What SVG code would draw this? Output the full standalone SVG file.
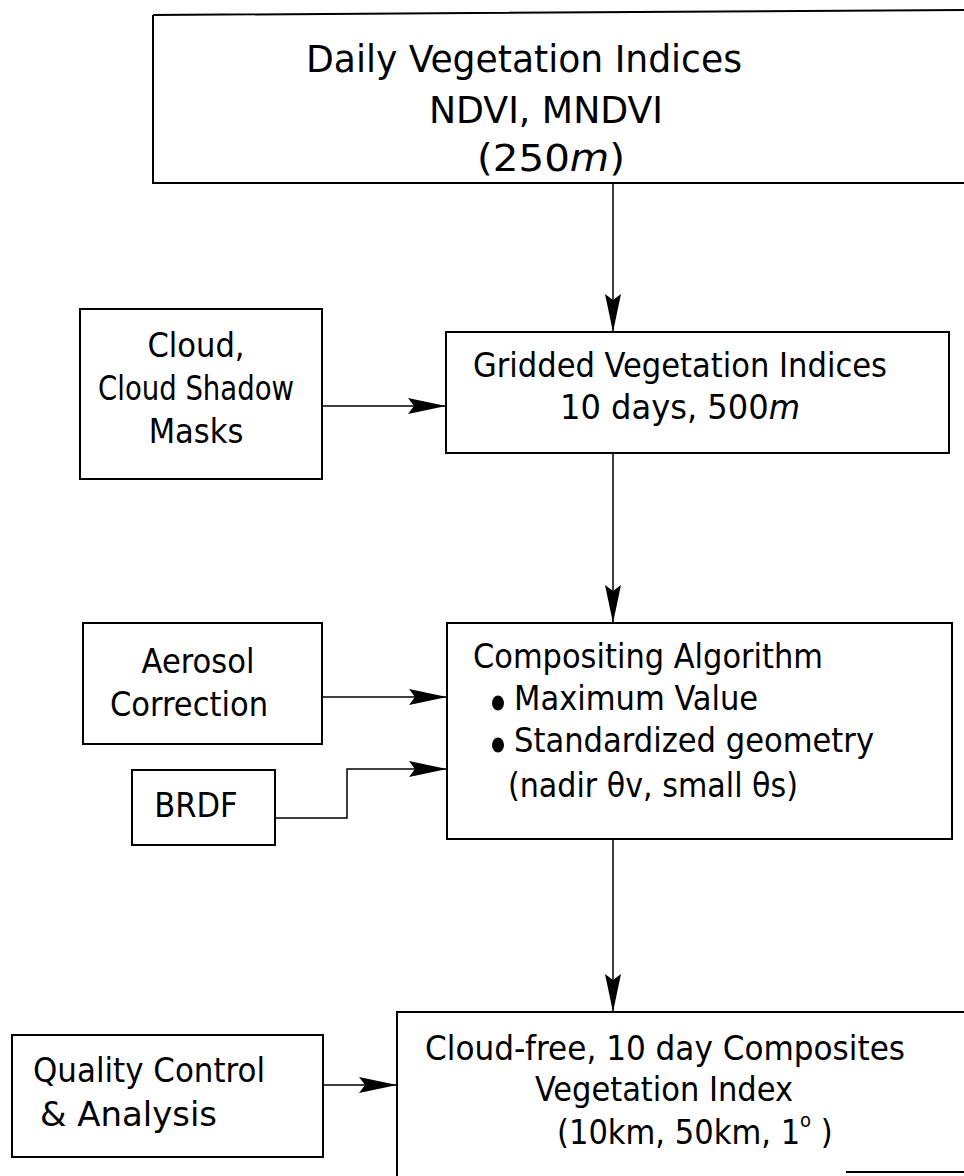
<svg xmlns="http://www.w3.org/2000/svg" width="964" height="1176" viewBox="0 0 964 1176">
<style>
.box{fill:#fff;stroke:#000;stroke-width:2}
.t{font-family:"DejaVu Sans Condensed","Liberation Sans",sans-serif;fill:#000;font-size:34px}
.big{font-size:37px}
.c{fill:none;stroke:#000;stroke-width:1.5}
</style>
<defs>
<marker id="ah" markerUnits="userSpaceOnUse" markerWidth="40" markerHeight="20" refX="38" refY="8" orient="auto">
<path d="M0,0 L38,8 L0,16 L6,8 Z" fill="#000"/>
</marker>
</defs>
<rect width="964" height="1176" fill="#fff"/>
<g id="daily">
<path class="box" d="M153,15 L964,10 M153,15 V183 H964"/>
<text class="t big" x="524" y="72" text-anchor="middle" textLength="436" lengthAdjust="spacingAndGlyphs">Daily Vegetation Indices</text>
<text class="t big" x="546" y="123" text-anchor="middle" textLength="234" lengthAdjust="spacingAndGlyphs">NDVI,  MNDVI</text>
<text class="t big" x="551" y="171" text-anchor="middle" textLength="148" lengthAdjust="spacingAndGlyphs">(250<tspan font-style="italic">m</tspan>)</text>
</g>
<g id="cloud">
<rect class="box" x="80" y="309" width="242" height="170"/>
<text class="t" x="196" y="357" text-anchor="middle">Cloud,</text>
<text class="t" x="196" y="400" text-anchor="middle" textLength="196" lengthAdjust="spacingAndGlyphs">Cloud Shadow</text>
<text class="t" x="196" y="443" text-anchor="middle">Masks</text>
</g>
<g id="gridded">
<rect class="box" x="446" y="332" width="503" height="121"/>
<text class="t" x="680" y="377" text-anchor="middle" textLength="414" lengthAdjust="spacingAndGlyphs">Gridded Vegetation Indices</text>
<text class="t" x="680" y="419" text-anchor="middle" textLength="240" lengthAdjust="spacingAndGlyphs">10 days,  500<tspan font-style="italic">m</tspan></text>
</g>
<g id="aerosol">
<rect class="box" x="83" y="623" width="239" height="121"/>
<text class="t" x="198" y="673" text-anchor="middle">Aerosol</text>
<text class="t" x="189" y="716" text-anchor="middle">Correction</text>
</g>
<g id="brdf">
<rect class="box" x="132" y="770" width="143" height="75"/>
<text class="t" x="196" y="817" text-anchor="middle">BRDF</text>
</g>
<g id="compositing">
<rect class="box" x="447" y="623" width="505" height="216"/>
<text class="t" x="473" y="668" textLength="350" lengthAdjust="spacingAndGlyphs">Compositing Algorithm</text>
<ellipse cx="498" cy="703" rx="6" ry="7.5" fill="#000"/>
<text class="t" x="514" y="710">Maximum Value</text>
<ellipse cx="498" cy="745" rx="6" ry="7.5" fill="#000"/>
<text class="t" x="514" y="752" textLength="360" lengthAdjust="spacingAndGlyphs">Standardized geometry</text>
<text class="t" x="508" y="797" textLength="290" lengthAdjust="spacingAndGlyphs">(nadir θv, small θs)</text>
</g>
<g id="quality">
<rect class="box" x="12" y="1035" width="311" height="122"/>
<text class="t" x="33" y="1082" textLength="232" lengthAdjust="spacingAndGlyphs">Quality Control</text>
<text class="t" x="40" y="1126" textLength="177" lengthAdjust="spacingAndGlyphs">&amp;  Analysis</text>
</g>
<g id="composites">
<path d="M397,1176 V1012 H964" class="box" fill="none"/>
<path d="M846,1172 H964" stroke="#000" stroke-width="2"/>
<text class="t" x="665" y="1060" text-anchor="middle" textLength="480" lengthAdjust="spacingAndGlyphs">Cloud-free, 10 day Composites</text>
<text class="t" x="664" y="1101" text-anchor="middle" textLength="258" lengthAdjust="spacingAndGlyphs">Vegetation Index</text>
<text class="t" x="557" y="1144">(10km, 50km, 1<tspan font-size="20" dy="-17">o</tspan><tspan dy="17"> )</tspan></text>
</g>
<g id="connectors">
<line class="c" x1="613" y1="183" x2="613" y2="332" marker-end="url(#ah)"/>
<line class="c" x1="322" y1="406" x2="446" y2="406" marker-end="url(#ah)"/>
<line class="c" x1="613" y1="453" x2="613" y2="623" marker-end="url(#ah)"/>
<line class="c" x1="322" y1="697" x2="447" y2="697" marker-end="url(#ah)"/>
<polyline class="c" points="275,818 347,818 347,769 447,769" marker-end="url(#ah)"/>
<line class="c" x1="613" y1="839" x2="613" y2="1012" marker-end="url(#ah)"/>
<line class="c" x1="323" y1="1085" x2="397" y2="1085" marker-end="url(#ah)"/>
</g>
</svg>
